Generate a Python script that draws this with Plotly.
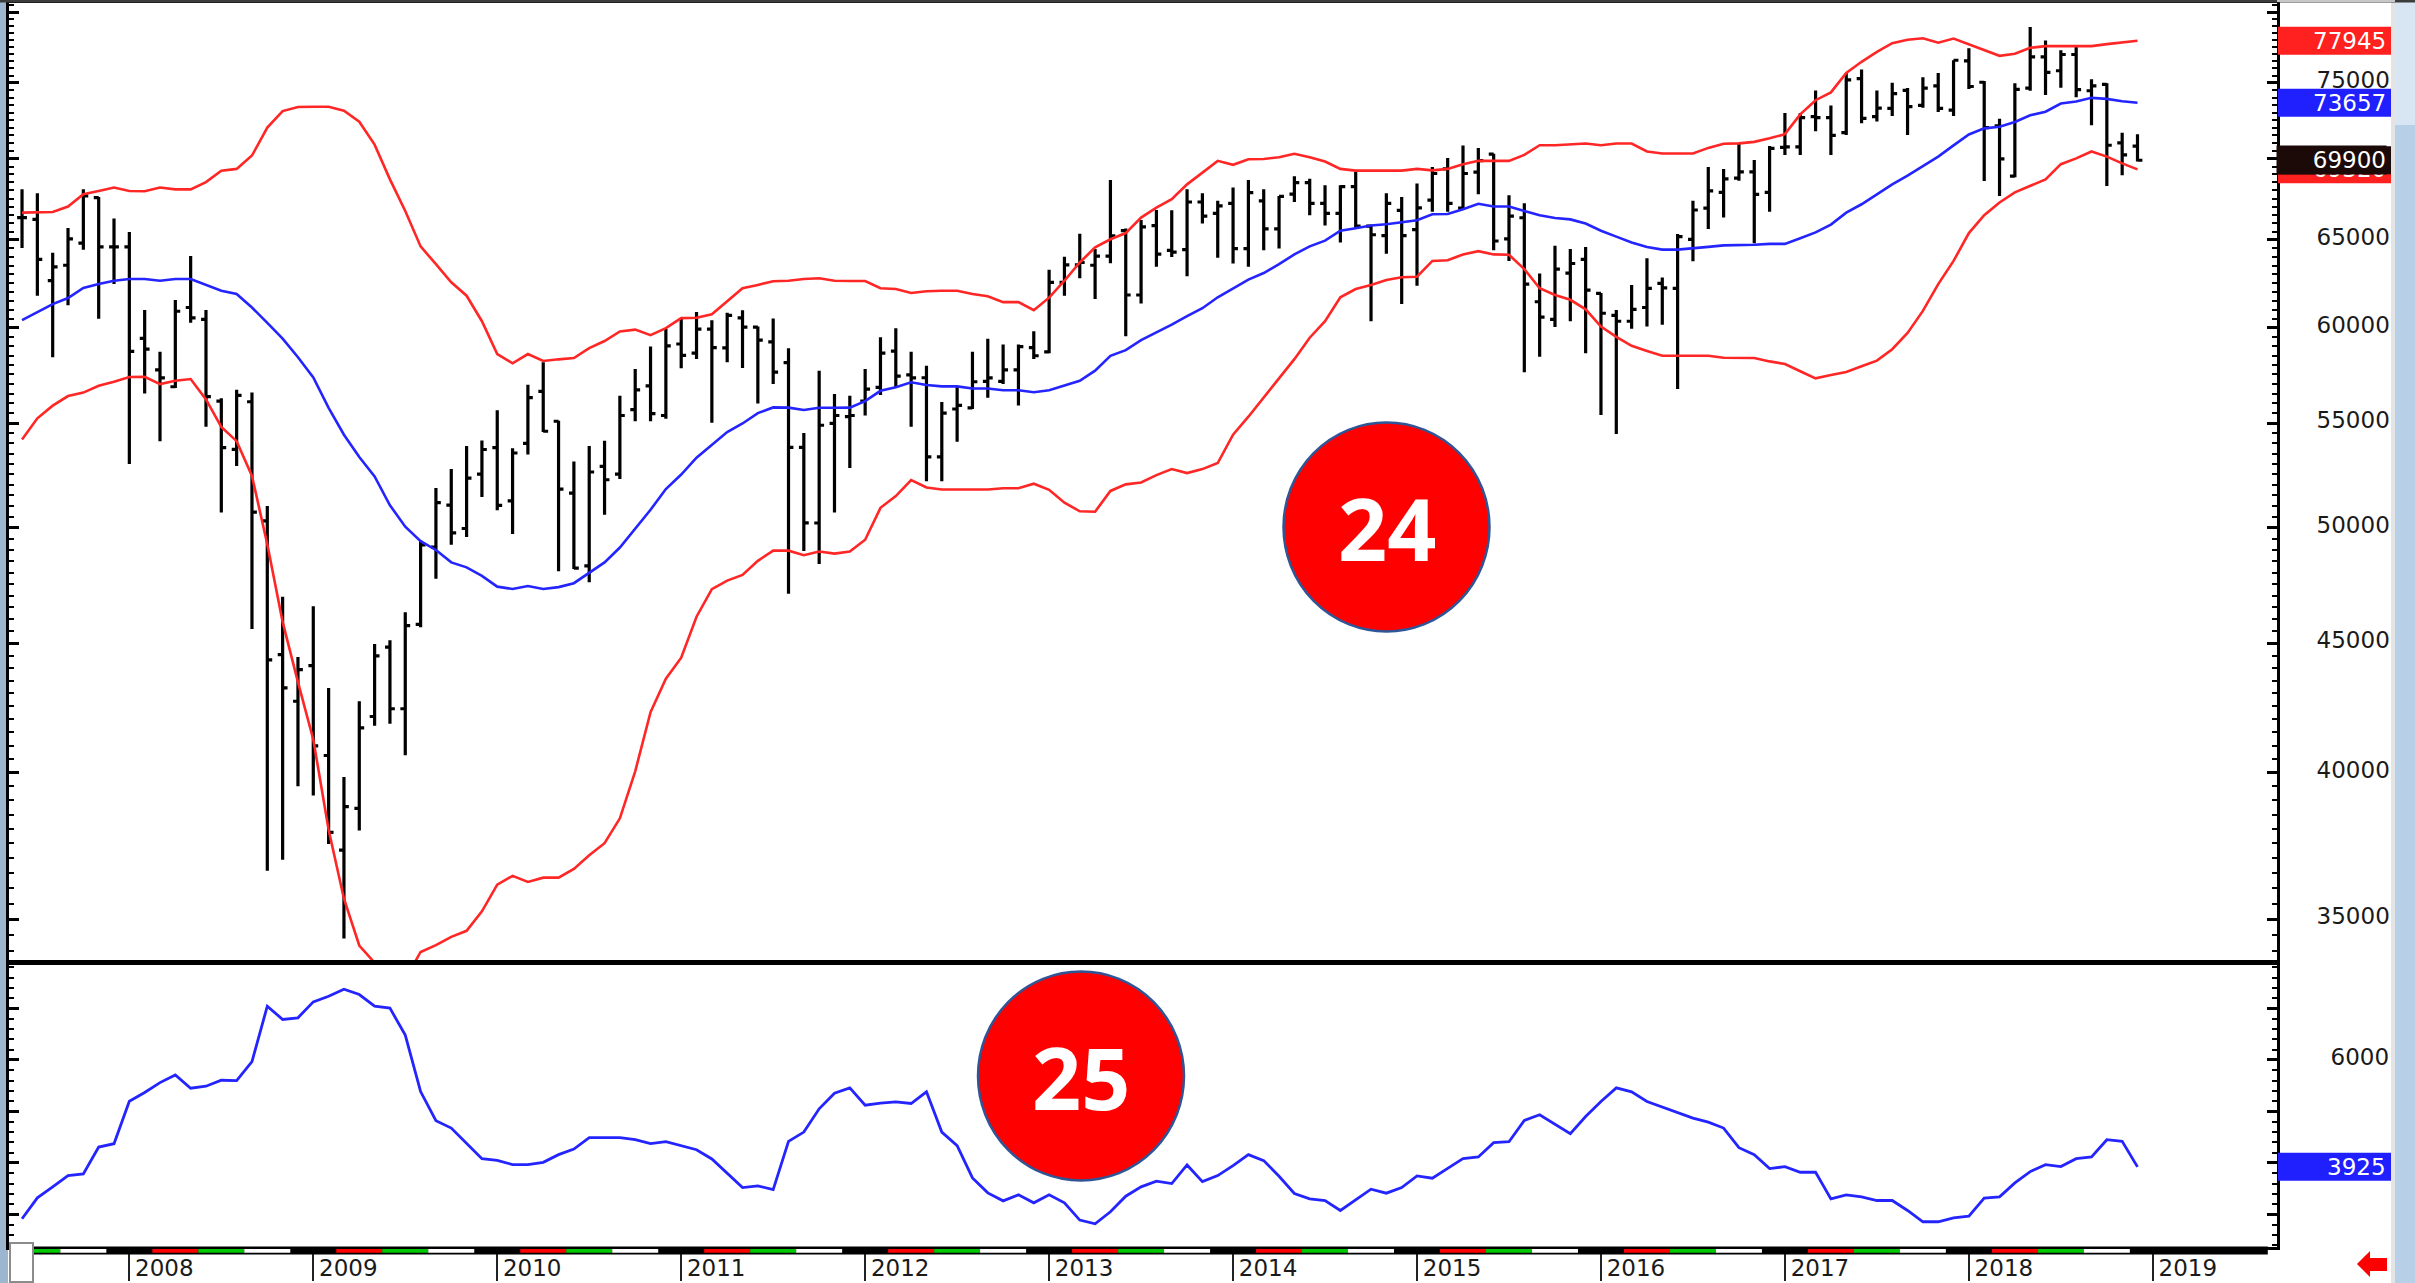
import math
import pandas as pd
import plotly.graph_objects as go

months = [d.strftime("%Y-%m") for d in pd.date_range("2007-06-01", periods=139, freq="MS")]
year_labels = ["2008", "2009", "2010", "2011", "2012", "2013", "2014", "2015", "2016", "2017", "2018", "2019"]

highs = [68080,67830,64240,65720,68080,67600,66290,65470,60980,58700,
61540,64050,60980,56270,56700,56570,51010,46960,44450,46550,
43210,39840,42690,44980,45130,46300,49430,51850,52750,53870,
54140,55650,53760,56970,58140,55120,53120,53870,54130,56390,
57790,58990,59930,60530,60870,60410,60830,60970,60070,60510,
58890,54510,57690,56480,56390,57790,59490,59980,58700,57960,
56070,56880,58700,59410,59090,59090,59810,63260,64020,65370,
64470,68650,65680,66190,66800,66780,68070,67830,67360,68180,
68650,68070,67660,68890,68730,68320,68320,69160,65920,67830,
67600,68430,69470,70050,70840,70690,70310,67710,67210,63050,
64660,64470,64590,61930,60980,62390,63920,62820,65350,67360,
69470,69350,70960,69920,70820,72970,72970,74490,73480,75680,
75920,74490,75020,74650,75400,75680,76570,77410,75140,72600,
74980,78920,77960,77270,77510,75260,74980,71680,71570]

lows = [64530,61780,58410,61250,64430,60500,62440,52990,56510,54110,
56790,60270,54820,50700,52900,45600,36580,36950,39510,39180,
37480,34390,37950,41750,41820,40640,45670,47730,49240,49580,
51430,50810,49720,53460,54560,48060,48160,47580,50600,52280,
55100,55100,55230,57830,58320,55020,58140,57840,56000,57000,
47080,48950,48380,50700,52800,55390,56440,56790,54820,52170,
52170,54080,55720,56300,57000,55900,58320,58630,61780,62770,
61590,63640,59540,61350,63430,64000,62880,65980,63960,63620,
63430,64390,64490,67290,66480,65860,64850,65720,60360,64190,
61310,62350,66700,66700,66800,67770,64390,63770,57620,58440,
60040,60360,58630,55420,54460,59950,60070,60170,56740,63750,
65660,66350,68610,64810,66700,70240,70240,71770,70240,71520,
72290,72410,72780,71520,73330,73040,72780,74580,68590,67660,
68830,74470,74190,74670,74030,72160,68280,68950,69820]

opens = [66340,66230,62630,63520,64810,67560,64590,64590,59420,57740,
56860,61120,60460,56120,53710,56090,50320,44540,42690,44100,
40630,37270,38720,42100,44850,42400,45790,49130,51050,49970,
52510,53790,51240,54000,56620,55100,51610,48300,52880,52510,
55690,56910,55390,59120,58630,59930,58910,60550,60040,59230,
58120,53800,50220,54990,55330,56120,56830,58740,57480,57330,
53340,55720,55780,57140,57140,57740,58930,58700,62540,63540,
63520,64050,65550,61820,65860,64390,64430,67290,66600,67200,
64490,67360,65660,67770,68490,67200,66600,68240,65820,65260,
66780,65620,67400,69350,66910,69140,70290,65060,66330,61440,
60460,63070,63860,61910,60680,60360,61120,62480,62200,65040,
66910,67880,68770,69160,67880,70730,70750,72740,72670,71680,
75300,72740,73280,74490,73480,74800,73170,76530,75050,72120,
68890,74650,76810,75840,76970,74470,74910,71020,70800]

closes = [66340,63860,63430,65060,67660,64590,64590,58720,58840,57320,
60910,60550,56350,53790,56420,50720,44330,43210,43940,40990,
37880,38780,41670,44490,42400,45740,49230,51160,49770,52320,
53700,51030,53530,56300,54600,51800,48200,52610,52240,55390,
56700,55480,59020,58510,59930,58930,60680,60040,59330,57620,
53800,50230,54900,55390,55390,56740,58630,57410,57320,53340,
55510,55900,57120,57320,57740,58980,58490,62540,63540,63680,
64050,65250,61820,65780,64170,64280,67290,66430,67050,64490,
67870,65660,67630,68490,67210,66600,68240,65820,65310,67200,
65260,66930,69060,67200,69060,69880,64940,66430,62440,60590,
63300,63620,62100,60800,60360,61020,62200,62220,65200,66800,
67980,68720,69160,67760,70660,70750,72670,72670,71500,75210,
72620,73300,74270,73400,74650,73280,76570,74760,72010,69980,
74560,76810,75730,76970,74540,74800,70860,70240,69900]

upper_band = [66640,66640,66680,67010,67770,67970,68180,67970,67950,68180,
68070,68070,68520,69240,69350,70200,72010,73100,73370,73390,
73390,73130,72400,70900,68690,66740,64620,63580,62540,61780,
60360,58580,58090,58580,58210,58300,58370,58900,59280,59800,
59900,59600,59980,60530,60550,60740,61460,62200,62390,62600,
62630,62730,62770,62630,62610,62610,62200,62160,61930,62030,
62060,62060,61880,61750,61420,61420,60970,61670,62630,63680,
64560,65040,65410,66340,66950,67460,68380,69100,69860,69610,
69960,69980,70090,70310,70090,69820,69350,69240,69240,69240,
69240,69350,69260,69350,69640,69870,69860,69860,70240,70860,
70860,70900,70970,70860,70970,70970,70460,70330,70330,70330,
70690,70960,70980,71080,71310,71580,72880,73830,74360,75680,
76460,77160,77770,78010,78120,77800,78100,77680,77250,76880,
77020,77440,77560,77560,77560,77560,77700,77840,77945]

middle_band = [60420,60870,61310,61650,62220,62440,62630,62730,62730,62630,
62730,62730,62390,62060,61880,61120,60270,59410,58410,57350,
55780,54430,53330,52400,51040,50050,49400,49000,48450,48230,
47860,47390,47290,47420,47290,47370,47540,48010,48450,49110,
49990,50830,51800,52490,53300,53950,54560,54990,55510,55800,
55790,55670,55780,55780,55790,56120,56650,56830,57090,56950,
56880,56880,56770,56770,56680,56680,56580,56680,56910,57170,
57700,58490,58790,59330,59750,60170,60640,61080,61690,62200,
62690,63070,63580,64150,64620,64960,65550,65700,65860,65940,
66060,66180,66540,66560,66850,67180,67010,67010,66740,66480,
66310,66230,65980,65550,65200,64850,64590,64430,64430,64490,
64590,64680,64680,64720,64770,64770,65100,65450,65920,66640,
67150,67770,68380,68920,69530,70130,70850,71560,71960,72070,
72380,72820,73060,73610,73740,73990,73920,73760,73657]

lower_band = [54190,55250,55890,56380,56560,56910,57120,57370,57380,57000,
57170,57260,56210,54820,54110,52420,49260,45890,43440,41230,
37970,35660,34170,33640,32800,33130,33970,34180,34440,34630,
35250,36120,36410,36210,36350,36350,36640,37100,37510,38370,
40050,42270,43580,44420,46110,47280,47650,47900,48520,48970,
48970,48770,48930,48840,48930,49460,50920,51470,52220,51870,
51780,51780,51780,51780,51840,51840,52050,51760,51160,50760,
50740,51710,52020,52110,52460,52750,52560,52750,53040,54430,
55330,56300,57260,58310,59460,60360,61690,62160,62390,62670,
62830,62860,63770,63810,64150,64340,64150,64130,63300,62200,
61820,61550,61020,60070,59510,59020,58750,58490,58490,58490,
58490,58380,58380,58370,58190,58050,57670,57300,57470,57630,
57930,58230,58840,59720,60930,62440,63770,65410,66480,67260,
67880,68280,68690,69650,70020,70460,70130,69700,69320]

indicator = [2917,3323,3536,3755,3788,4310,4375,5200,5368,5561,
5710,5452,5490,5607,5600,5968,7045,6787,6819,7129,
7238,7374,7271,7045,7006,6484,5387,4820,4678,4375,
4084,4052,3968,3968,4013,4162,4271,4491,4491,4491,
4452,4375,4413,4336,4258,4078,3807,3523,3555,3484,
4420,4600,5052,5355,5458,5123,5161,5187,5155,5381,
4600,4336,3710,3420,3265,3381,3226,3381,3226,2891,
2820,3052,3355,3536,3646,3601,3962,3639,3755,3949,
4162,4046,3742,3407,3304,3272,3078,3278,3491,3414,
3523,3749,3704,3897,4084,4117,4394,4413,4826,4936,
4755,4568,4903,5194,5458,5381,5194,5091,4981,4871,
4794,4678,4297,4162,3891,3930,3820,3820,3304,3381,
3343,3272,3272,3078,2859,2859,2936,2968,3317,3343,
3613,3833,3968,3930,4084,4117,4452,4420,3925]

price_ticks = [35000, 40000, 45000, 50000, 55000, 60000, 65000, 70000, 75000, 80000]
price_tick_labels = ["35000", "40000", "45000", "50000", "55000", "60000", "65000", "", "75000", ""]
ind_ticks = [3000, 4000, 5000, 6000, 7000]
ind_tick_labels = ["", "", "", "6000", ""]
season_colors = ["black", "#ff0000", "#00c800", "#ffffff"]

W, H = 2415, 1283
RED, BLUE = "#ff2626", "#2424ff"
pos = list(range(len(months)))
year_pos = [(int(y) - 2007) * 12 - 5 for y in year_labels]

def fx(x):
    return x / W

def fy(y):
    return 1 - y / H

def box(x0, y0, x1, y1, fill, line=None, lw=0, layer="above"):
    return dict(type="rect", xref="paper", yref="paper", x0=fx(x0), x1=fx(x1), y0=fy(y0), y1=fy(y1),
                fillcolor=fill, line=dict(color=line or fill, width=lw), layer=layer)

def oval(cx, cy, rx, ry):
    return dict(type="circle", xref="paper", yref="paper", x0=fx(cx - rx), x1=fx(cx + rx), y0=fy(cy + ry), y1=fy(cy - ry),
                fillcolor="#ff0000", line=dict(color="#2f5597", width=2.5), layer="above")

fig = go.Figure()
fig.add_trace(go.Ohlc(x=pos, open=opens, high=highs, low=lows, close=closes, tickwidth=0.32,
                      increasing=dict(line=dict(color="black", width=3.2)),
                      decreasing=dict(line=dict(color="black", width=3.2)),
                      xaxis="x", yaxis="y", showlegend=False))
for series, color in ((upper_band, RED), (lower_band, RED), (middle_band, BLUE)):
    fig.add_trace(go.Scatter(x=pos, y=series, mode="lines", line=dict(color=color, width=2.6),
                             xaxis="x", yaxis="y", showlegend=False))
fig.add_trace(go.Scatter(x=pos, y=indicator, mode="lines", line=dict(color=BLUE, width=2.8),
                         xaxis="x2", yaxis="y2", showlegend=False))

shapes = [
    box(0, 0, 8, H, "#9db6d0", layer="below"),
    box(0, 0, W, 2.5, "#3c3c3c"),
    box(2277, 0, 2395, 2, "#c8c8c8"),
    box(2395, 0, W, H, "#b8cfe8", layer="below"),
    box(2395, 0, W, 125, "#d8e5f3", layer="below"),
    box(2391, 0, 2395, H, "#e4e4e4", layer="below"),
]
# season strip under the lower panel, in data units of the month axis
strip_end = len(months) - 1 + 8.5
last = len(months) - 0.5
shapes.append(dict(type="rect", xref="x2", yref="paper", x0=-0.85, x1=strip_end, y0=fy(1254.5), y1=fy(1246.5),
                   fillcolor="black", line=dict(width=0), layer="above"))
for yp in [year_pos[0] - 12] + year_pos:
    for q, c in enumerate(season_colors):
        a = yp - 1.5 + 3 * q
        b = a + 3
        if q == 0 or a >= last:
            continue
        shapes.append(dict(type="rect", xref="x2", yref="paper", x0=max(a, -0.85), x1=min(b, last),
                           y0=fy(1252.8), y1=fy(1249), fillcolor=c, line=dict(width=0), layer="above"))
shapes += [
    box(10, 1243, 33, 1282, "#ffffff", "#8c8c8c", 2),
    oval(1386.5, 527, 103, 104.5),
    oval(1081, 1076, 103, 104.5),
]
arrow = [(2357, 1264), (2370, 1251), (2370, 1258), (2387, 1258), (2387, 1271), (2370, 1271), (2370, 1277)]
shapes.append(dict(type="path", xref="paper", yref="paper", fillcolor="#ff0000", line=dict(width=0), layer="above",
                   path="M " + " L ".join(f"{fx(a):.5f} {fy(b):.5f}" for a, b in arrow) + " Z"))

annotations = []
y_lo, y_hi = math.log10(33660), math.log10(80670)
price_decades_per_px = (y_hi - y_lo) / 959
ind_units_per_px = (7883 - 2369) / 284

def badge(val, axis, fill, covers=False):
    if axis == "y":
        half = 10 ** (14 * price_decades_per_px)
        y0, y1, y = val / half, val * half, math.log10(val)
    else:
        half = 14 * ind_units_per_px
        y0, y1, y = val - half, val + half, val
    shapes.append(dict(type="rect", xref="paper", yref=axis, x0=fx(2278), x1=fx(2391), y0=y0, y1=y1,
                       fillcolor=fill, line=dict(width=0), layer="above"))
    ann = dict(xref="paper", yref=axis, x=fx(2387), y=y, xanchor="right", yanchor="middle",
               text=str(val), showarrow=False, borderpad=0,
               font=dict(family="DejaVu Sans", size=23, color="white"))
    if covers:  # a solid label that hides the badge lying beneath it
        ann.update(width=109, height=28, align="right", valign="middle", bgcolor=fill)
    annotations.append(ann)
badge(upper_band[-1], "y", "#ff2020")
badge(lower_band[-1], "y", "#ff2020")
badge(middle_band[-1], "y", "#2020ff")
badge(closes[-1], "y", "#1c0a08", covers=True)
badge(indicator[-1], "y2", "#2020ff")
for label, cx, cy in (("24", 1386.5, 527), ("25", 1081, 1076)):
    annotations.append(dict(xref="paper", yref="paper", x=fx(cx), y=fy(cy), text=label, showarrow=False,
                            xanchor="center", yanchor="middle",
                            font=dict(family="Open Sans", size=86, color="white", weight="bold")))

tick_font = dict(family="DejaVu Sans", size=23, color="#1a1a1a")
x_dom = [fx(9), fx(2277)]
x_rng = [-0.85, 147.1]
price_minor = [v for v in range(33500, 81000, 500) if v % 5000]
ind_minor = [v for v in range(2400, 7900, 200) if v % 1000]

fig.update_layout(
    width=W, height=H, margin=dict(l=0, r=0, t=0, b=0, pad=0, autoexpand=False), paper_bgcolor="white", plot_bgcolor="white",
    showlegend=False, shapes=shapes, annotations=annotations,
    xaxis=dict(domain=x_dom, range=x_rng, anchor="y", rangeslider=dict(visible=False), showgrid=False,
               showticklabels=False, ticks="", zeroline=False, showline=True, linecolor="black", linewidth=3, mirror=True),
    xaxis2=dict(domain=x_dom, range=x_rng, anchor="y2", showgrid=False, zeroline=False, tickmode="array",
                tickvals=year_pos, ticktext=year_labels, ticks="outside", ticklen=31, tickwidth=2, tickcolor="#222222",
                ticklabelshift=35, ticklabelstandoff=-33, tickfont=tick_font, showline=True, linecolor="black", linewidth=3,
                mirror=True, automargin=False),
    yaxis=dict(domain=[fy(962), fy(3)], type="log", range=[y_lo, y_hi], side="right", anchor="x",
               showgrid=False, zeroline=False, tickmode="array", tickvals=price_ticks, ticktext=price_tick_labels,
               ticks="inside", ticklen=10, tickwidth=2.5, tickcolor="black", tickfont=tick_font, ticklabelstandoff=32,
               ticklabelshift=-3, showline=True, linecolor="black", linewidth=3, mirror="ticks",
               minor=dict(tickmode="array", tickvals=price_minor, ticks="inside", ticklen=5, tickwidth=2, tickcolor="black")),
    yaxis2=dict(domain=[fy(1247), fy(963)], range=[2369, 7883], side="right", anchor="x2",
                showgrid=False, zeroline=False, tickmode="array", tickvals=ind_ticks, ticktext=ind_tick_labels,
                ticks="inside", ticklen=10, tickwidth=2.5, tickcolor="black", tickfont=tick_font, ticklabelstandoff=46,
                ticklabelshift=-3, showline=True, linecolor="black", linewidth=3, mirror="ticks",
                minor=dict(tickmode="array", tickvals=ind_minor, ticks="inside", ticklen=5, tickwidth=2, tickcolor="black")),
)
assert all(len(a) == len(months) for a in (opens, highs, lows, closes, upper_band, middle_band, lower_band, indicator))
fig.write_html("out.html", config=dict(displayModeBar=False),
               post_script="var s=document.documentElement.style,b=document.body.style;"
                           "s.margin=b.margin='0';s.padding=b.padding='0';s.overflow=b.overflow='hidden';"
                           "s.height=b.height='1283px';")
